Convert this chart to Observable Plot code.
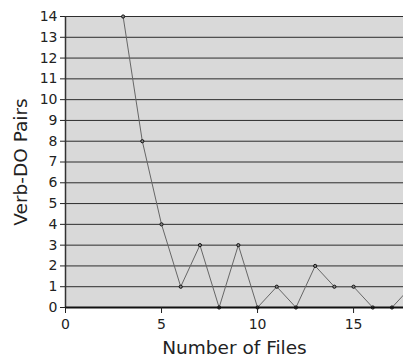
<!DOCTYPE html>
<html><head><meta charset="utf-8">
<script src="https://cdn.jsdelivr.net/npm/d3@7"></script>
<script src="https://cdn.jsdelivr.net/npm/@observablehq/plot@0.6"></script>
<style>body{margin:0;background:#fff;} svg{display:block;}</style>
</head><body><div id="chart"></div>
<script>
const files = [3,4,5,6,7,8,9,10,11,12,13,14,15,16,17,18];
const pairs = [14,8,4,1,3,0,3,0,1,0,2,1,1,0,0,1];
const xTicks = [0,5,10,15];
const yTicks = [0,1,2,3,4,5,6,7,8,9,10,11,12,13,14];
const data = files.map((f,i)=>({x:f,y:pairs[i]}));
const xMax = 17.6;
const chart = Plot.plot({
  width: 403, height: 360,
  marginLeft: 65, marginRight: 0, marginTop: 16, marginBottom: 53,
  style: {fontFamily: "DejaVu Sans", fontSize: "14px", color: "#222", background: "#fff"},
  x: {domain: [0, xMax]},
  y: {domain: [0, 14]},
  marks: [
    Plot.frame({fill: "#d9d9d9", stroke: null}),
    Plot.gridY(yTicks, {stroke: "#000", strokeOpacity: 0.8, strokeWidth: 1}),
    Plot.line(data, {x: "x", y: "y", stroke: "#666", strokeWidth: 1, clip: true}),
    Plot.dot(data.filter(d => d.x <= xMax), {x: "x", y: "y", r: 1.6, fill: "#888", stroke: "#111", strokeWidth: 1}),
    Plot.ruleX([0], {stroke: "#333", strokeWidth: 1.5}),
    Plot.ruleY([0], {stroke: "#111", strokeWidth: 2}),
    Plot.axisX({ticks: xTicks, tickSize: 6, tickPadding: 6, fontSize: 14, label: "Number of Files", labelAnchor: "center", labelArrow: "none", labelOffset: 46}),
    Plot.axisY({ticks: yTicks, tickSize: 5, tickPadding: 3, fontSize: 14, label: "Verb-DO Pairs", labelAnchor: "center", labelArrow: "none", labelOffset: 52})
  ]
});
chart.querySelectorAll('[aria-label="x-axis label"] text, [aria-label="y-axis label"] text').forEach(t => t.setAttribute("font-size", "18.5px"));
document.getElementById("chart").appendChild(chart);
</script></body></html>
